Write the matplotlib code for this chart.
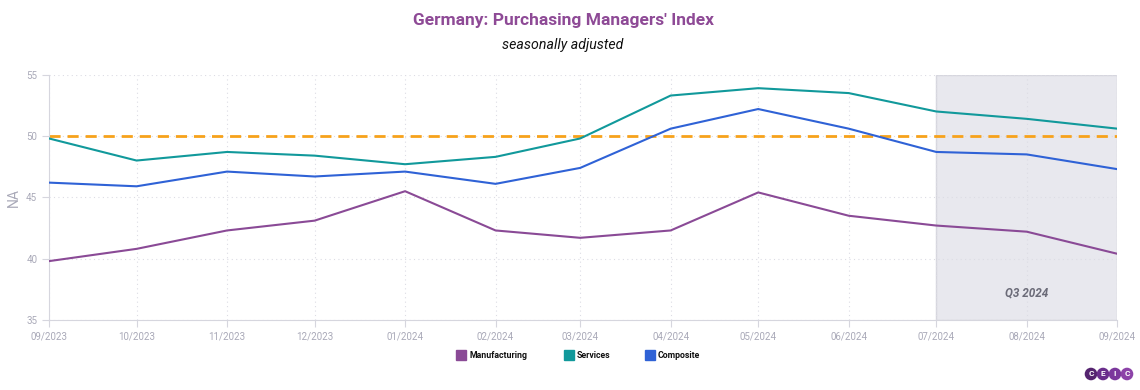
import matplotlib
matplotlib.use("Agg")
import matplotlib.pyplot as plt
import pandas as pd
from matplotlib.lines import Line2D
from matplotlib.patches import Circle

plt.rcParams['font.family'] = ['Roboto', 'DejaVu Sans']

months = ["09/2023", "10/2023", "11/2023", "12/2023", "01/2024", "02/2024", "03/2024",
          "04/2024", "05/2024", "06/2024", "07/2024", "08/2024", "09/2024"]
manufacturing = [39.8, 40.8, 42.3, 43.1, 45.5, 42.3, 41.7, 42.3, 45.4, 43.5, 42.7, 42.2, 40.4]
services = [49.8, 48.0, 48.7, 48.4, 47.7, 48.3, 49.8, 53.3, 53.9, 53.5, 52.0, 51.4, 50.6]
composite = [46.2, 45.9, 47.1, 46.7, 47.1, 46.1, 47.4, 50.6, 52.2, 50.6, 48.7, 48.5, 47.3]
threshold = 50
q3_start, q3_end = "07/2024", "09/2024"

c_man = "#8a4a96"
c_ser = "#11999b"
c_com = "#2f62d6"
grey = "#a9a9b8"

fig = plt.figure(figsize=(11.4, 3.9), dpi=100)
ax = fig.add_axes([0.043, 0.1795, 0.937, 0.629])

# time axis: months are not all the same width
x = pd.to_datetime(months, format="%m/%Y")
x0 = pd.to_datetime(q3_start, format="%m/%Y")
x1 = pd.to_datetime(q3_end, format="%m/%Y")
ax.axvspan(x0, x1, facecolor="#e8e8ee", edgecolor="#d6d6de", lw=1, zorder=0)
ax.text(x0 + (x1 - x0) / 2, 37.2, "Q3 2024", ha="center", va="center", fontsize=8.5,
        fontweight="bold", style="italic", color="#6b6b78")

ax.axhline(threshold, color="#f7a21b", lw=2, ls=(0, (4, 2.5)), zorder=2)
ax.plot(x, manufacturing, color=c_man, lw=1.5, zorder=3)
ax.plot(x, services, color=c_ser, lw=1.5, zorder=3)
ax.plot(x, composite, color=c_com, lw=1.5, zorder=3)

ax.set_xlim(x[0], x[-1])
ax.set_ylim(35, 55)
ax.set_yticks([35, 40, 45, 50, 55])
ax.set_xticks(x)
ax.set_xticklabels(months)
ax.tick_params(colors=grey, labelsize=7, length=5, width=0.8, color="#d6d6de")
ax.grid(True, color="#dcdce4", ls=(0, (1, 3)), lw=0.8)
ax.set_axisbelow(True)
for s in ["top", "right"]:
    ax.spines[s].set_visible(False)
for s in ["left", "bottom"]:
    ax.spines[s].set_color("#d6d6de")
ax.set_ylabel("NA", color=grey, fontsize=10)

fig.text(0.494, 0.948, "Germany: Purchasing Managers' Index", ha="center", va="center",
         fontsize=12.5, fontweight="bold", color="#8e4a96")
fig.text(0.494, 0.885, "seasonally adjusted", ha="center", va="center",
         fontsize=10.2, style="italic", color="#111111")

# legend, placed by hand
legend_items = [("Manufacturing", c_man, 461), ("Services", c_ser, 569), ("Composite", c_com, 650)]
ly = 1 - 355 / 390
for name, col, px in legend_items:
    fig.add_artist(Line2D([px / 1140], [ly], marker="s", markersize=7.5, color=col,
                          transform=fig.transFigure))
    fig.text((px + 8) / 1140, ly, name, ha="left", va="center", fontsize=6.3,
             fontweight="bold", color="#111111")

# logo
lax = fig.add_axes([1082 / 1140, 1 - 383 / 390, 54 / 1140, 18 / 390])
lax.set_xlim(0, 54)
lax.set_ylim(0, 18)
lax.axis("off")
logo_cols = ["#55246f", "#6a2e8c", "#7b379c", "#8c42a8"]
for i, ch in enumerate("CEIC"):
    cx = 9 + i * 12
    lax.add_patch(Circle((cx, 9), 6.3, facecolor=logo_cols[i], edgecolor="none"))
    lax.text(cx, 9, ch, ha="center", va="center", fontsize=6, fontweight="bold", color="white")

fig.savefig("out.png", dpi=100)
